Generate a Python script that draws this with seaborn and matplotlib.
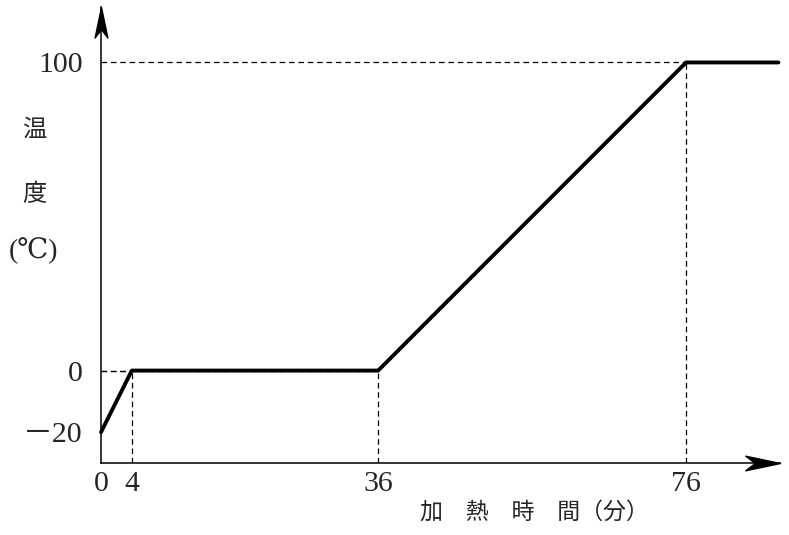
import matplotlib
matplotlib.use('Agg')
import matplotlib.pyplot as plt
import numpy as np
import pandas as pd
import seaborn as sns
from matplotlib.path import Path

# dados: tempo de aquecimento (min) x temperatura (°C)
tempo = [0, 4, 36, 76, 88]
temperatura = [-20, 0, 0, 100, 100]
xticks = [0, 4, 36, 76]
yticks = [-20, 0, 100]
ytick_labels = ['\uff0d20', '0', '100']

sns.set_style('white')
plt.rcParams['font.family'] = ['Liberation Serif', 'Noto Sans CJK JP', 'DejaVu Sans']

dados = pd.DataFrame({'tempo': tempo, 'temperatura': temperatura})

fig = plt.figure(figsize=(7.89, 5.35), dpi=100)
ax = fig.add_axes([101 / 789, 72 / 535, 679 / 789, 456 / 535])
ax.set_xlim(0, 88.2)
ax.set_ylim(-30, 118)

# linhas tracejadas de referência nos pontos de quebra
for xv, yv in zip(tempo[1:-1], temperatura[1:-1]):
    ax.vlines(xv, -30, yv, colors='black', linewidth=0.9, linestyles=(0, (4.5, 3)))
    ax.hlines(yv, 0, xv, colors='black', linewidth=0.9, linestyles=(0, (4.5, 3)))

sns.lineplot(data=dados, x='tempo', y='temperatura', sort=False, color='black',
             linewidth=2.8, ax=ax, clip_on=False)

# eixos com setas
for side in ['top', 'right']:
    ax.spines[side].set_visible(False)
for side in ['left', 'bottom']:
    ax.spines[side].set_color('black')
    ax.spines[side].set_linewidth(1.1)

seta_dir = Path([(0, 0), (-2, 0.42), (-1.45, 0), (-2, -0.42), (0, 0)],
                [Path.MOVETO, Path.LINETO, Path.LINETO, Path.LINETO, Path.CLOSEPOLY])
seta_cima = Path([(0, 0), (0.42, -2), (0, -1.45), (-0.42, -2), (0, 0)],
                 [Path.MOVETO, Path.LINETO, Path.LINETO, Path.LINETO, Path.CLOSEPOLY])
ax.plot([1], [0], marker=seta_dir, markersize=50, color='black',
        transform=ax.transAxes, clip_on=False)
ax.plot([0], [1], marker=seta_cima, markersize=44, color='black',
        transform=ax.transAxes, clip_on=False)

ax.set_xticks(xticks)
ax.set_xticklabels([str(t) for t in xticks], fontsize=21.5)
ax.set_yticks(yticks)
ax.set_yticklabels(ytick_labels, fontsize=21.5)
ax.tick_params(axis='y', length=0, pad=13)
ax.tick_params(axis='x', length=0, pad=6)
ax.set_xlabel('')
ax.set_ylabel('')

# rótulos dos eixos
fig.text(34 / 789, 1 - 130 / 535, '温', fontsize=17.5, ha='center', va='center',
         family=['Noto Sans CJK JP'])
fig.text(34 / 789, 1 - 194 / 535, '度', fontsize=17.5, ha='center', va='center',
         family=['Noto Sans CJK JP'])
fig.text(34 / 789, 1 - 251 / 535, '(℃)', fontsize=20, ha='center', va='center',
         family=['Liberation Serif', 'DejaVu Serif', 'Noto Sans CJK JP'])
fig.text(534 / 789, 1 - 513 / 535, '加　熱　時　間（分）', fontsize=16.5, ha='center',
         va='center', family=['Noto Sans CJK JP'])

fig.savefig('out.png', dpi=100)
